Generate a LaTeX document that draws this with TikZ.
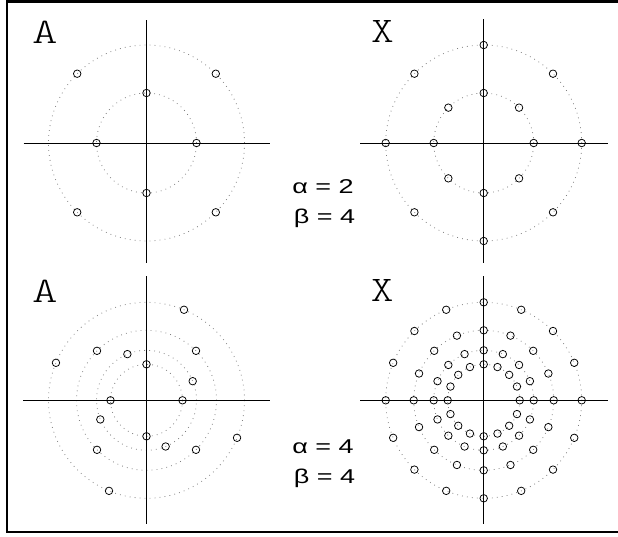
\documentclass[tikz,border=0pt]{standalone}
\usepackage{fontspec}
\setmainfont{Liberation Sans}
\newfontfamily\lmlight{Latin Modern Mono Light}
\begin{document}
\begin{tikzpicture}[x=1pt,y=-1pt,
  ring/.style={draw=black!50, line width=0.8pt, dash pattern=on 0.8pt off 4.2pt},
  axisline/.style={draw=black, line width=0.9pt},
  mk/.style={circle, draw=black, line width=0.75pt, minimum size=7.5pt, inner sep=0pt},
  lbl/.style={font=\lmlight\fontsize{36}{36}\selectfont, inner sep=0pt},
  eq/.style={font=\fontsize{20}{24}\selectfont, inner sep=0pt, anchor=base}]
\useasboundingbox (0,0) rectangle (618,536);
\draw[line width=2.6pt] (620,1.5) -- (7,1.5) -- (7,532) -- (620,532);

% ---------- top left ----------
\begin{scope}[shift={(146.5,143)}]
  \coordinate (tlW) at (-123,0); \coordinate (tlE) at (123,0);
  \coordinate (tlN) at (0,-123); \coordinate (tlS) at (0,120);
  \draw[ring] (0,0) circle[radius=98pt];
  \draw[ring] (0,0) circle[radius=50pt];
  \draw[axisline] (tlW) -- (tlE);
  \draw[axisline] (tlN) -- (tlS);
  \foreach \a [count=\i] in {0,90,180,270} \node[mk] (tli\i) at (\a:50pt) {};
  \foreach \a [count=\i] in {45,135,225,315} \node[mk] (tlo\i) at (\a:98pt) {};
\end{scope}
\node[lbl] (labA1) at (45,32) {\scalebox{1.35}[1]{A}};

% ---------- top right ----------
\begin{scope}[shift={(483.7,143)}]
  \coordinate (trW) at (-123.5,0); \coordinate (trE) at (124,0);
  \coordinate (trN) at (0,-124); \coordinate (trS) at (0,120);
  \draw[ring] (0,0) circle[radius=98pt];
  \draw[ring] (0,0) circle[radius=50pt];
  \draw[axisline] (trW) -- (trE);
  \draw[axisline] (trN) -- (trS);
  \foreach \a [count=\i] in {0,45,...,315} {
    \node[mk] (tri\i) at (\a:50pt) {};
    \node[mk] (tro\i) at (\a:98pt) {};
  }
\end{scope}
\node[lbl] (labX1) at (382.5,31.5) {\scalebox{1.2}[1]{X}};

\node[eq] (eqa1) at (323,193.3) {\scalebox{1.35}[1]{α = 2}};
\node[eq] (eqb1) at (324.5,223.3) {\scalebox{1.35}[1]{β = 4}};

% ---------- bottom left ----------
\begin{scope}[shift={(146.5,400.3)}]
  \coordinate (blW) at (-123.5,0); \coordinate (blE) at (123,0);
  \coordinate (blN) at (0,-124); \coordinate (blS) at (0,124);
  \foreach \r in {98,70,50,36} \draw[ring] (0,0) circle[radius=\r pt];
  \draw[axisline] (blW) -- (blE);
  \draw[axisline] (blN) -- (blS);
  \foreach \a [count=\i] in {0,90,180,270} \node[mk] (bla\i) at (\a:36pt) {};
  \foreach \a [count=\i] in {22.5,112.5,202.5,292.5} \node[mk] (blb\i) at (\a:50pt) {};
  \foreach \a [count=\i] in {45,135,225,315} \node[mk] (blc\i) at (\a:70pt) {};
  \foreach \a [count=\i] in {67.5,157.5,247.5,337.5} \node[mk] (bld\i) at (\a:98pt) {};
\end{scope}
\node[lbl] (labA2) at (45,290.8) {\scalebox{1.35}[1]{A}};

% ---------- bottom right ----------
\begin{scope}[shift={(483.7,400.3)}]
  \coordinate (brW) at (-123.5,0); \coordinate (brE) at (124,0);
  \coordinate (brN) at (0,-124); \coordinate (brS) at (0,124);
  \foreach \r in {98,70,50,36} \draw[ring] (0,0) circle[radius=\r pt];
  \draw[axisline] (brW) -- (brE);
  \draw[axisline] (brN) -- (brS);
  \foreach \a [count=\i] in {0,22.5,...,337.5} {
    \node[mk] (bra\i) at (\a:36pt) {};
    \node[mk] (brb\i) at (\a:50pt) {};
    \node[mk] (brc\i) at (\a:70pt) {};
    \node[mk] (brd\i) at (\a:98pt) {};
  }
\end{scope}
\node[lbl] (labX2) at (382.3,290.8) {\scalebox{1.2}[1]{X}};

\node[eq] (eqa2) at (323,453.3) {\scalebox{1.35}[1]{α = 4}};
\node[eq] (eqb2) at (324.5,483.3) {\scalebox{1.35}[1]{β = 4}};
\end{tikzpicture}
\end{document}
